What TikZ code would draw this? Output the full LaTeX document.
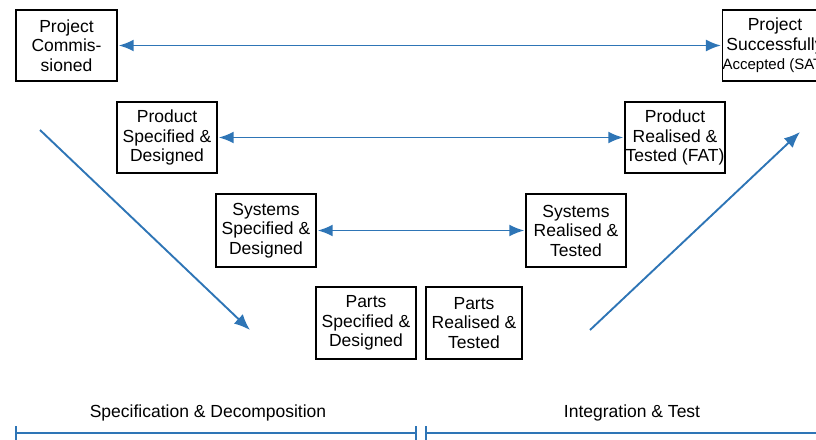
\documentclass[tikz,border=0pt]{standalone}
\usepackage{fontspec}
\setmainfont{Liberation Sans}
\usetikzlibrary{arrows.meta}
\definecolor{vblue}{RGB}{46,117,182}

\begin{document}
\begin{tikzpicture}[x=1pt, y=-1pt,
        stage/.style={draw=black, line width=1.4pt, align=center, inner sep=0pt,
            font=\fontsize{17.5}{19.5}\selectfont},
        link/.style={vblue, line width=1.9pt, shorten <=1pt, shorten >=1pt,
            {Latex[length=15pt,width=12pt]}-{Latex[length=15pt,width=12pt]}},
        flow/.style={vblue, line width=1.9pt, -{Latex[length=16pt,width=13pt]}},
        span/.style={vblue, line width=1.8pt}]
        \clip (0, 0) rectangle (816, 439);

        % LEFT SIDE
        \node[stage, minimum width=101pt, minimum height=71pt] (pc) at (66.5, 45.5) {Project\\Commis-\\sioned};
        \node[stage, minimum width=100pt, minimum height=71pt] (ps) at (167, 137.5) {Product\\Specified \&\\Designed};
        \node[stage, minimum width=100pt, minimum height=73pt] (ss) at (266, 230.5) {Systems\\Specified \&\\Designed};
        \node[stage, minimum width=100pt, minimum height=72pt] (prs) at (366, 323) {Parts\\Specified \&\\Designed};

        % RIGHT SIDE
        \node[stage, minimum width=104pt, minimum height=71pt] (pa) at (775, 45.5) {Project\\Successfully\\{\fontsize{15}{17}\selectfont Accepted (SAT)}};
        \node[stage, minimum width=100pt, minimum height=71pt] (pr) at (675, 137.5) {Product\\Realised \&\\Tested (FAT)};
        \node[stage, minimum width=100pt, minimum height=73pt] (sr) at (576, 230.5) {Systems\\Realised \&\\Tested};
        \node[stage, minimum width=96pt, minimum height=72pt] (prr) at (474, 323) {Parts\\Realised \&\\Tested};

        % LINKS
        \draw[link] (pc) -- (pa);
        \draw[link] (ps) -- (pr);
        \draw[link] (ss) -- (sr);

        % DIAGONALS
        \coordinate (dtop) at (40, 130);
        \coordinate (dbot) at (250, 330);
        \coordinate (ubot) at (590, 330);
        \coordinate (utop) at (800, 132);
        \draw[flow] (dtop) -- (dbot);
        \draw[flow] (ubot) -- (utop);

        % PHASES
        \coordinate (sa) at (16, 433);
        \coordinate (sb) at (416, 433);
        \coordinate (ia) at (426, 433);
        \coordinate (ib) at (830, 433);
        \draw[span] (sa) -- (sb);
        \draw[span] (ia) -- (ib);
        \draw[span] (16, 426) -- (16, 440);
        \draw[span] (416, 426) -- (416, 440);
        \draw[span] (426, 426) -- (426, 440);
        \node[font=\fontsize{17.5}{19}\selectfont] (spec) at (208, 413) {Specification \& Decomposition};
        \node[font=\fontsize{17.5}{19}\selectfont] (integ) at (632, 413) {Integration \& Test};
    \end{tikzpicture}
\end{document}
